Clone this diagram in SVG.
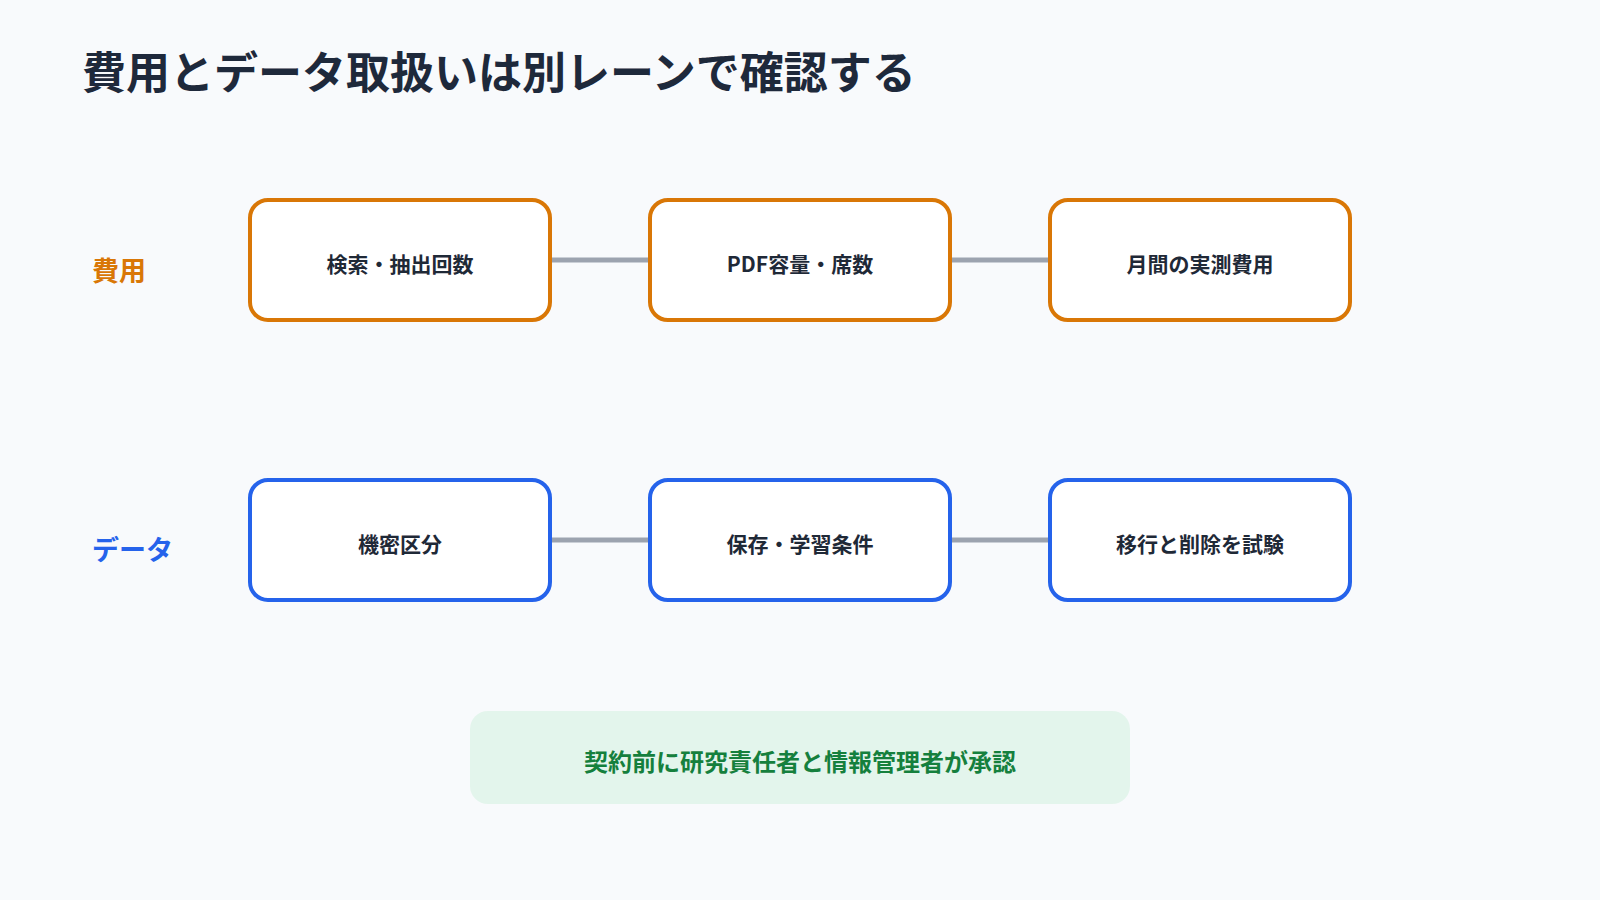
<svg xmlns="http://www.w3.org/2000/svg" width="1600" height="900" viewBox="0 0 1600 900">
<style>
text{font-family:"Noto Sans CJK JP","Noto Sans",sans-serif;font-weight:700}
.n{fill:#fff;stroke-width:4}
.o{stroke:#d97706}.b{stroke:#2563eb}
.t{font-size:21px;fill:#1f2937;text-anchor:middle;dominant-baseline:central}
.c{stroke:#9ca3af;stroke-width:5}
</style>
<rect width="1600" height="900" fill="#f8fafc"/>
<text x="82" y="89" font-size="44" fill="#1e293b">費用とデータ取扱いは別レーンで確認する</text>
<text x="92" y="269" font-size="27" fill="#d97706" dominant-baseline="central">費用</text>
<text x="92" y="548" font-size="27" fill="#2563eb" dominant-baseline="central">データ</text>
<g id="connectors">
<line class="c" x1="550" y1="260" x2="650" y2="260"/><line class="c" x1="950" y1="260" x2="1050" y2="260"/>
<line class="c" x1="550" y1="540" x2="650" y2="540"/><line class="c" x1="950" y1="540" x2="1050" y2="540"/>
</g>
<g id="n1"><rect class="n o" x="250" y="200" width="300" height="120" rx="18"/><text class="t" x="400" y="263">検索・抽出回数</text></g>
<g id="n2"><rect class="n o" x="650" y="200" width="300" height="120" rx="18"/><text class="t" x="800" y="263">PDF容量・席数</text></g>
<g id="n3"><rect class="n o" x="1050" y="200" width="300" height="120" rx="18"/><text class="t" x="1200" y="263">月間の実測費用</text></g>
<g id="n4"><rect class="n b" x="250" y="480" width="300" height="120" rx="18"/><text class="t" x="400" y="543">機密区分</text></g>
<g id="n5"><rect class="n b" x="650" y="480" width="300" height="120" rx="18"/><text class="t" x="800" y="543">保存・学習条件</text></g>
<g id="n6"><rect class="n b" x="1050" y="480" width="300" height="120" rx="18"/><text class="t" x="1200" y="543">移行と削除を試験</text></g>
<g id="approval"><rect x="470" y="711" width="660" height="93" rx="18" fill="#e3f5ec"/><text x="800" y="760" font-size="24" fill="#15803d" text-anchor="middle" dominant-baseline="central">契約前に研究責任者と情報管理者が承認</text></g>
</svg>
